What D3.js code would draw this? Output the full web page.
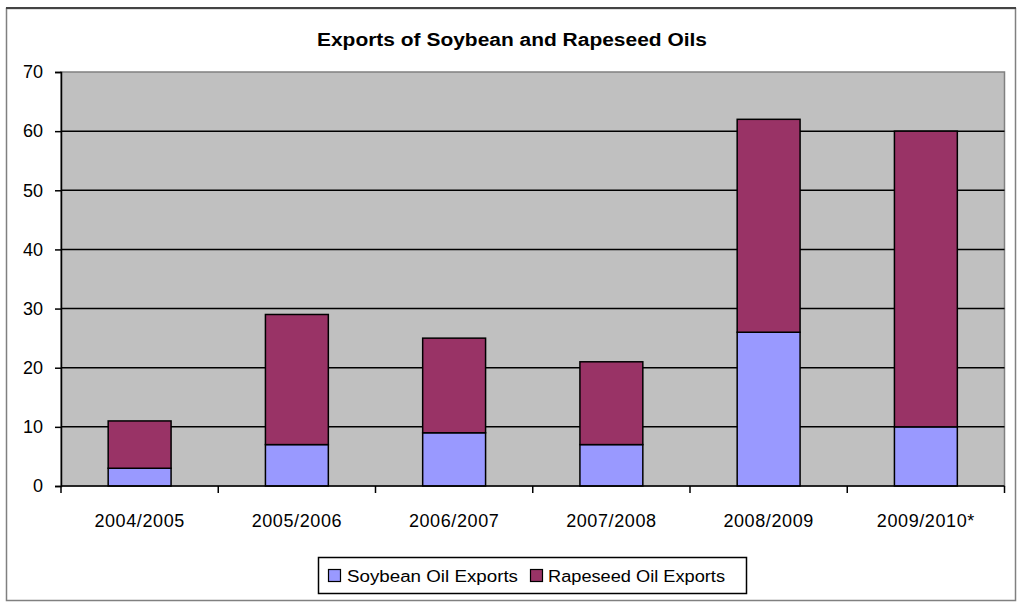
<!DOCTYPE html>
<html><head><meta charset="utf-8">
<script src="https://cdn.jsdelivr.net/npm/d3@7"></script>
<style>body{margin:0;background:#fff}svg{display:block}</style>
</head><body>
<script>
const categories = ["2004/2005","2005/2006","2006/2007","2007/2008","2008/2009","2009/2010*"];
const soybean = [3, 7, 9, 7, 26, 10];
const rapeseed = [8, 22, 16, 14, 36, 50];
const seriesNames = ["Soybean Oil Exports","Rapeseed Oil Exports"];
const seriesColors = ["#9999FF","#993366"];
const yTicks = [0,10,20,30,40,50,60,70];

const W = 1018, H = 602;
const svg = d3.select("body").append("svg").attr("width", W).attr("height", H);
const font = "'Liberation Sans', Arial, sans-serif";

// outer frame
svg.append("rect").attr("x",6.5).attr("y",8.5).attr("width",1009).attr("height",592)
  .attr("fill","#fff").attr("stroke","#808080").attr("stroke-width",1.5);
svg.append("line").attr("x1",6).attr("x2",1016).attr("y1",8).attr("y2",8).attr("stroke","#444").attr("stroke-width",2);

const L = 61, R = 1004.5, T = 72, B = 486;
const x = d3.scaleBand().domain(categories).range([L, R]).paddingInner(0.6).paddingOuter(0.3);
const xb = d3.scaleBand().domain(categories).range([L, R]);
const y = d3.scaleLinear().domain([0,70]).range([B, T]);

svg.append("rect").attr("x",L).attr("y",T).attr("width",R-L).attr("height",B-T)
  .attr("fill","#C0C0C0").attr("stroke","#808080").attr("stroke-width",1.5);

// gridlines
svg.append("g").selectAll("line").data(yTicks.filter(d=>d>0 && d<70)).join("line")
  .attr("x1",L).attr("x2",R).attr("y1",d=>y(d)).attr("y2",d=>y(d))
  .attr("stroke","#000").attr("stroke-width",1.5);

// stacked bars
const data = categories.map((c,i)=>({cat:c, soy:soybean[i], rape:rapeseed[i]}));
const stack = d3.stack().keys(["soy","rape"])(data);
svg.append("g").selectAll("g").data(stack).join("g")
  .attr("fill",(d,i)=>seriesColors[i])
  .selectAll("rect").data(d=>d).join("rect")
  .attr("x",d=>x(d.data.cat)).attr("width",x.bandwidth())
  .attr("y",d=>y(d[1])).attr("height",d=>y(d[0])-y(d[1]))
  .attr("stroke","#000").attr("stroke-width",1.5);

// y axis
const yAxis = svg.append("g").attr("transform",`translate(${L},0)`)
  .call(d3.axisLeft(y).tickValues(yTicks).tickSize(6).tickPadding(12));
yAxis.select(".domain").attr("stroke","#000").attr("stroke-width",1.5);
yAxis.selectAll(".tick line").attr("stroke","#000").attr("stroke-width",1.5);
yAxis.selectAll("text").attr("font-family",font).attr("font-size",18).attr("fill","#000");

// x axis
const xg = svg.append("g").attr("transform",`translate(0,${B})`);
xg.append("line").attr("x1",L).attr("x2",R).attr("stroke","#000").attr("stroke-width",1.5);
const bounds = categories.map(c=>xb(c)).concat([R]);
xg.selectAll("line.tk").data(bounds).join("line").attr("class","tk")
  .attr("x1",d=>d).attr("x2",d=>d).attr("y1",0).attr("y2",7)
  .attr("stroke","#000").attr("stroke-width",1.5);
xg.selectAll("text").data(categories).join("text")
  .attr("x",d=>xb(d)+xb.bandwidth()/2).attr("y",41)
  .attr("text-anchor","middle").attr("font-family",font).attr("font-size",18)
  .attr("letter-spacing",0.6).text(d=>d);

// title
svg.append("text").attr("x",512).attr("y",46).attr("text-anchor","middle")
  .attr("font-family",font).attr("font-weight","bold").attr("font-size",18)
  .attr("textLength",390).attr("lengthAdjust","spacingAndGlyphs")
  .text("Exports of Soybean and Rapeseed Oils");

// legend
const lg = svg.append("g");
lg.append("rect").attr("x",318.5).attr("y",557.5).attr("width",428).attr("height",36)
  .attr("fill","#fff").attr("stroke","#000").attr("stroke-width",1.5);
const legX = [328, 530], legTX = [347, 548], legW = [171, 177];
seriesNames.forEach((n,i)=>{
  lg.append("rect").attr("x",legX[i]+0.5).attr("y",569.5).attr("width",12).attr("height",12)
    .attr("fill",seriesColors[i]).attr("stroke","#000").attr("stroke-width",1.2);
  lg.append("text").attr("x",legTX[i]).attr("y",582).attr("font-family",font).attr("font-size",16)
    .attr("textLength",legW[i]).attr("lengthAdjust","spacingAndGlyphs").text(n);
});
</script>
</body></html>
